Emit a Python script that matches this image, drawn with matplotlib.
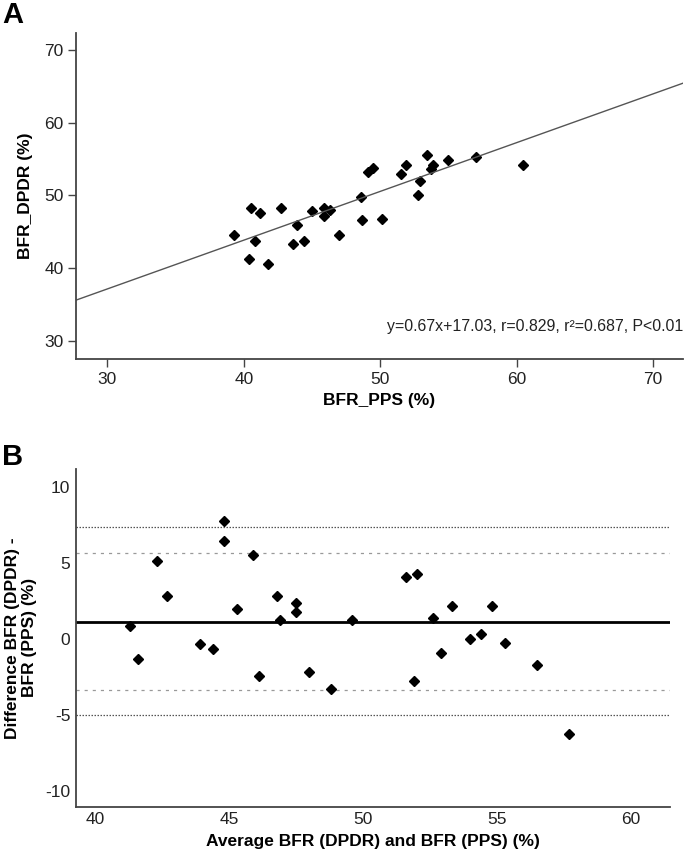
import numpy as np
import matplotlib
matplotlib.use("Agg")
import matplotlib.pyplot as plt

plt.rcParams['font.family'] = ['Liberation Sans', 'DejaVu Sans']
plt.rcParams['axes.unicode_minus'] = False

# panel A: BFR_PPS vs BFR_DPDR
pps = [39.3, 40.5, 41.2, 42.7, 40.8, 40.4, 41.8, 43.9, 43.6, 44.4,
       45.0, 45.9, 46.3, 45.9, 47.0, 48.6, 48.7, 50.1, 49.1, 49.5,
       51.5, 51.9, 52.8, 52.9, 53.4, 53.7, 53.9, 55.0, 57.0, 60.5]
dpdr = [44.5, 48.3, 47.6, 48.3, 43.7, 41.3, 40.5, 45.9, 43.3, 43.7,
        47.8, 48.3, 48.0, 47.1, 44.5, 49.8, 46.6, 46.7, 53.2, 53.7,
        52.9, 54.1, 50.1, 52.0, 55.6, 53.6, 54.2, 54.8, 55.2, 54.2]
slope, intercept = 0.67, 17.03
stats_text = "y=0.67x+17.03, r=0.829, r²=0.687, P<0.01"

# panel B: Bland-Altman
avg = [41.3, 41.6, 42.3, 42.7, 43.9, 44.4, 44.8, 44.8, 45.3, 45.9,
       46.1, 46.8, 46.9, 47.5, 47.5, 48.0, 48.8, 49.6, 51.6, 52.0,
       51.9, 52.6, 53.3, 52.9, 54.0, 54.4, 54.8, 55.3, 56.5, 57.7]
diff = [0.86, -1.34, 5.15, 2.85, -0.33, -0.64, 7.76, 6.45, 1.97, 5.57,
        -2.43, 2.85, 1.27, 2.35, 1.76, -2.15, -3.31, 1.27, 4.06, 4.28,
        -2.74, 1.36, 2.15, -0.94, -0.02, 0.35, 2.15, -0.24, -1.73, -6.23]
mean_diff = 1.1
inner_limits = [5.65, -3.35]
outer_limits = [7.35, -5.0]

fig = plt.figure(figsize=(6.85, 8.57), dpi=100)
spine_col = '#444444'
txt_col = '#222222'
fs = 12.5

# ---- A ----
axA = fig.add_axes([76/685, 1-359/857, 607/685, 326/857])
axA.plot(pps, dpdr, linestyle='none', marker='D', color='black', ms=5.3)
xl = np.array([27.7, 72.2])
axA.plot(xl, slope*xl + intercept, color='#555555', lw=1)
axA.set_xlim(27.7, 72.2)
axA.set_ylim(27.5, 72.3)
axA.set_xticks([30, 40, 50, 60, 70])
axA.set_yticks([30, 40, 50, 60, 70])
for s in ['top', 'right']:
    axA.spines[s].set_visible(False)
for s in ['left', 'bottom']:
    axA.spines[s].set_color(spine_col)
    axA.spines[s].set_linewidth(1.3)
axA.tick_params(direction='out', length=6, width=1, color=spine_col,
                labelsize=fs, labelcolor=txt_col, pad=3)
axA.set_xlabel('BFR_PPS (%)', fontsize=fs, fontweight='bold', labelpad=5)
axA.set_ylabel('BFR_DPDR (%)', fontsize=fs, fontweight='bold', labelpad=8)
axA.text(1.0, 0.1, stats_text, transform=axA.transAxes, ha='right',
         va='center', fontsize=11.4, color=txt_col)
fig.text(2/685, 1-15/857, 'A', fontsize=21, fontweight='bold', va='center')

# ---- B ----
axB = fig.add_axes([76/685, 1-806.7/857, 594/685, 337.7/857])
axB.axhline(outer_limits[0], color='#555555', lw=0.9, ls=(0, (1.2, 1.2)))
axB.axhline(outer_limits[1], color='#555555', lw=0.9, ls=(0, (1.2, 1.2)))
axB.axhline(inner_limits[0], color='#999999', lw=0.9, ls=(0, (2.5, 4)))
axB.axhline(inner_limits[1], color='#999999', lw=0.9, ls=(0, (2.5, 4)))
axB.axhline(mean_diff, color='black', lw=2)
axB.plot(avg, diff, linestyle='none', marker='D', color='black', ms=5)
axB.set_xlim(39.29, 61.45)
axB.set_ylim(-11.03, 11.2)
axB.set_xticks([40, 45, 50, 55, 60])
axB.set_yticks([-10, -5, 0, 5, 10])
for s in ['top', 'right']:
    axB.spines[s].set_visible(False)
for s in ['left', 'bottom']:
    axB.spines[s].set_color(spine_col)
    axB.spines[s].set_linewidth(1.3)
axB.tick_params(length=0, labelsize=fs, labelcolor=txt_col, pad=4)
axB.set_xlabel('Average BFR (DPDR) and BFR (PPS) (%)', fontsize=fs,
               fontweight='bold', labelpad=5)
axB.set_ylabel('Difference BFR (DPDR) -\nBFR (PPS) (%)', fontsize=fs,
               fontweight='bold', labelpad=6)
fig.text(2/685, 1-457/857, 'B', fontsize=21, fontweight='bold', va='center')

fig.savefig('out.png', dpi=100)
